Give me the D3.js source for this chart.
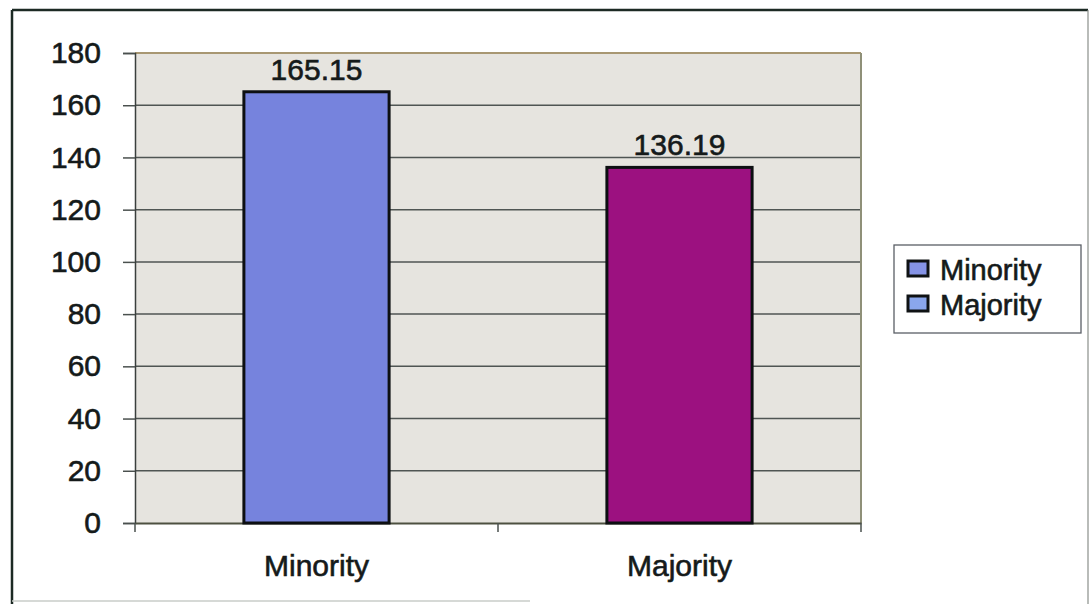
<!DOCTYPE html>
<html>
<head>
<meta charset="utf-8">
<script src="https://cdn.jsdelivr.net/npm/d3@7"></script>
<style>
  html, body { margin: 0; padding: 0; background: #ffffff; }
  svg { display: block; }
  text { font-family: "Liberation Sans", Arial, sans-serif; fill: #151a1a; stroke: #151a1a; stroke-width: 0.6px; }
</style>
</head>
<body>
<svg id="chart" width="1090" height="604"></svg>
<script>
// Chart data
const categories = ["Minority", "Majority"];
const values = [165.15, 136.19];
const valueLabels = ["165.15", "136.19"];
const barColors = ["#7683dd", "#9c1180"];
const legendLabels = ["Minority", "Majority"];
const legendColors = ["#8593e6", "#8aa6ec"];
const yTicks = [0, 20, 40, 60, 80, 100, 120, 140, 160, 180];

const svg = d3.select("#chart");

// Outer frame
svg.append("line").attr("x1", 12).attr("y1", 10).attr("x2", 1088).attr("y2", 10)
  .attr("stroke", "#1c2a24").attr("stroke-width", 2.5);
svg.append("line").attr("x1", 12).attr("y1", 10).attr("x2", 12).attr("y2", 604)
  .attr("stroke", "#1c2a24").attr("stroke-width", 2.5);
svg.append("line").attr("x1", 1088).attr("y1", 10).attr("x2", 1088).attr("y2", 604)
  .attr("stroke", "#8a8f8a").attr("stroke-width", 1.2);
svg.append("line").attr("x1", 12).attr("y1", 601).attr("x2", 530).attr("y2", 601)
  .attr("stroke", "#c8ccc8").attr("stroke-width", 1.5);

// Plot area
const plot = { left: 135, right: 861, top: 53, bottom: 523 };

const x = d3.scaleBand()
  .domain(categories)
  .range([plot.left, plot.right])
  .paddingInner(0.6)
  .paddingOuter(0.3);

const y = d3.scaleLinear()
  .domain([0, 180])
  .range([plot.bottom, plot.top]);

svg.append("rect")
  .attr("x", plot.left).attr("y", plot.top)
  .attr("width", plot.right - plot.left).attr("height", plot.bottom - plot.top)
  .attr("fill", "#e6e4df");

// Gridlines
svg.append("g")
  .selectAll("line")
  .data(yTicks.filter(t => t > 0 && t < 180))
  .join("line")
  .attr("x1", plot.left).attr("x2", plot.right)
  .attr("y1", d => y(d)).attr("y2", d => y(d))
  .attr("stroke", "#4f5553").attr("stroke-width", 1.5);

// Top edge and right edge of the plot area
svg.append("line").attr("x1", plot.left).attr("x2", plot.right)
  .attr("y1", y(180)).attr("y2", y(180))
  .attr("stroke", "#a89772").attr("stroke-width", 2);
svg.append("line").attr("x1", plot.right).attr("x2", plot.right)
  .attr("y1", plot.top).attr("y2", plot.bottom)
  .attr("stroke", "#8f9078").attr("stroke-width", 2);

// Y axis
const yAxis = d3.axisLeft(y)
  .tickValues(yTicks)
  .tickSize(12)
  .tickPadding(22)
  .tickFormat(d3.format("d"));

const yg = svg.append("g")
  .attr("transform", `translate(${plot.left},0)`)
  .call(yAxis);
yg.select(".domain").attr("stroke", "#3a3f3d").attr("stroke-width", 1.5);
yg.selectAll(".tick line").attr("stroke", "#4a504e").attr("stroke-width", 1.5);
yg.selectAll(".tick text")
  .attr("font-size", 30)
  .attr("fill", "#151a1a")
  .attr("font-family", "Liberation Sans, Arial, sans-serif");

// X axis
const xAxis = d3.axisBottom(x).tickSize(0).tickPadding(32);
const xg = svg.append("g")
  .attr("transform", `translate(0,${plot.bottom})`)
  .call(xAxis);
xg.select(".domain").attr("stroke", "#4d5040").attr("stroke-width", 2);
xg.selectAll(".tick text")
  .attr("font-size", 30)
  .attr("fill", "#151a1a")
  .attr("font-family", "Liberation Sans, Arial, sans-serif");

// Category boundary tick marks below the x axis
const boundaries = [plot.left, (x(categories[0]) + x.bandwidth() + x(categories[1])) / 2, plot.right];
svg.append("g")
  .selectAll("line")
  .data(boundaries)
  .join("line")
  .attr("x1", d => d).attr("x2", d => d)
  .attr("y1", plot.bottom).attr("y2", plot.bottom + 9)
  .attr("stroke", "#4a504e").attr("stroke-width", 1.5);

// Bars
svg.append("g")
  .selectAll("rect")
  .data(values)
  .join("rect")
  .attr("x", (d, i) => x(categories[i]))
  .attr("y", d => y(d))
  .attr("width", x.bandwidth())
  .attr("height", d => y(0) - y(d))
  .attr("fill", (d, i) => barColors[i])
  .attr("stroke", "#0d0f12")
  .attr("stroke-width", 3);

// Value labels
svg.append("g")
  .selectAll("text")
  .data(values)
  .join("text")
  .attr("x", (d, i) => x(categories[i]) + x.bandwidth() / 2)
  .attr("y", d => y(d) - 12)
  .attr("text-anchor", "middle")
  .attr("font-size", 30)
  .text((d, i) => valueLabels[i]);

// Legend
const legend = svg.append("g").attr("transform", "translate(894,245)");
legend.append("rect")
  .attr("width", 187).attr("height", 88)
  .attr("fill", "#ffffff")
  .attr("stroke", "#5a5f66").attr("stroke-width", 1.3);

const items = legend.selectAll("g.item")
  .data(legendLabels)
  .join("g")
  .attr("class", "item")
  .attr("transform", (d, i) => `translate(0,${25 + i * 35})`);

items.append("rect")
  .attr("x", 14).attr("y", -9)
  .attr("width", 20).attr("height", 15)
  .attr("fill", (d, i) => legendColors[i])
  .attr("stroke", "#0f1214").attr("stroke-width", 3);

items.append("text")
  .attr("x", 46).attr("y", 10)
  .attr("font-size", 29)
  .text(d => d);
</script>
</body>
</html>
